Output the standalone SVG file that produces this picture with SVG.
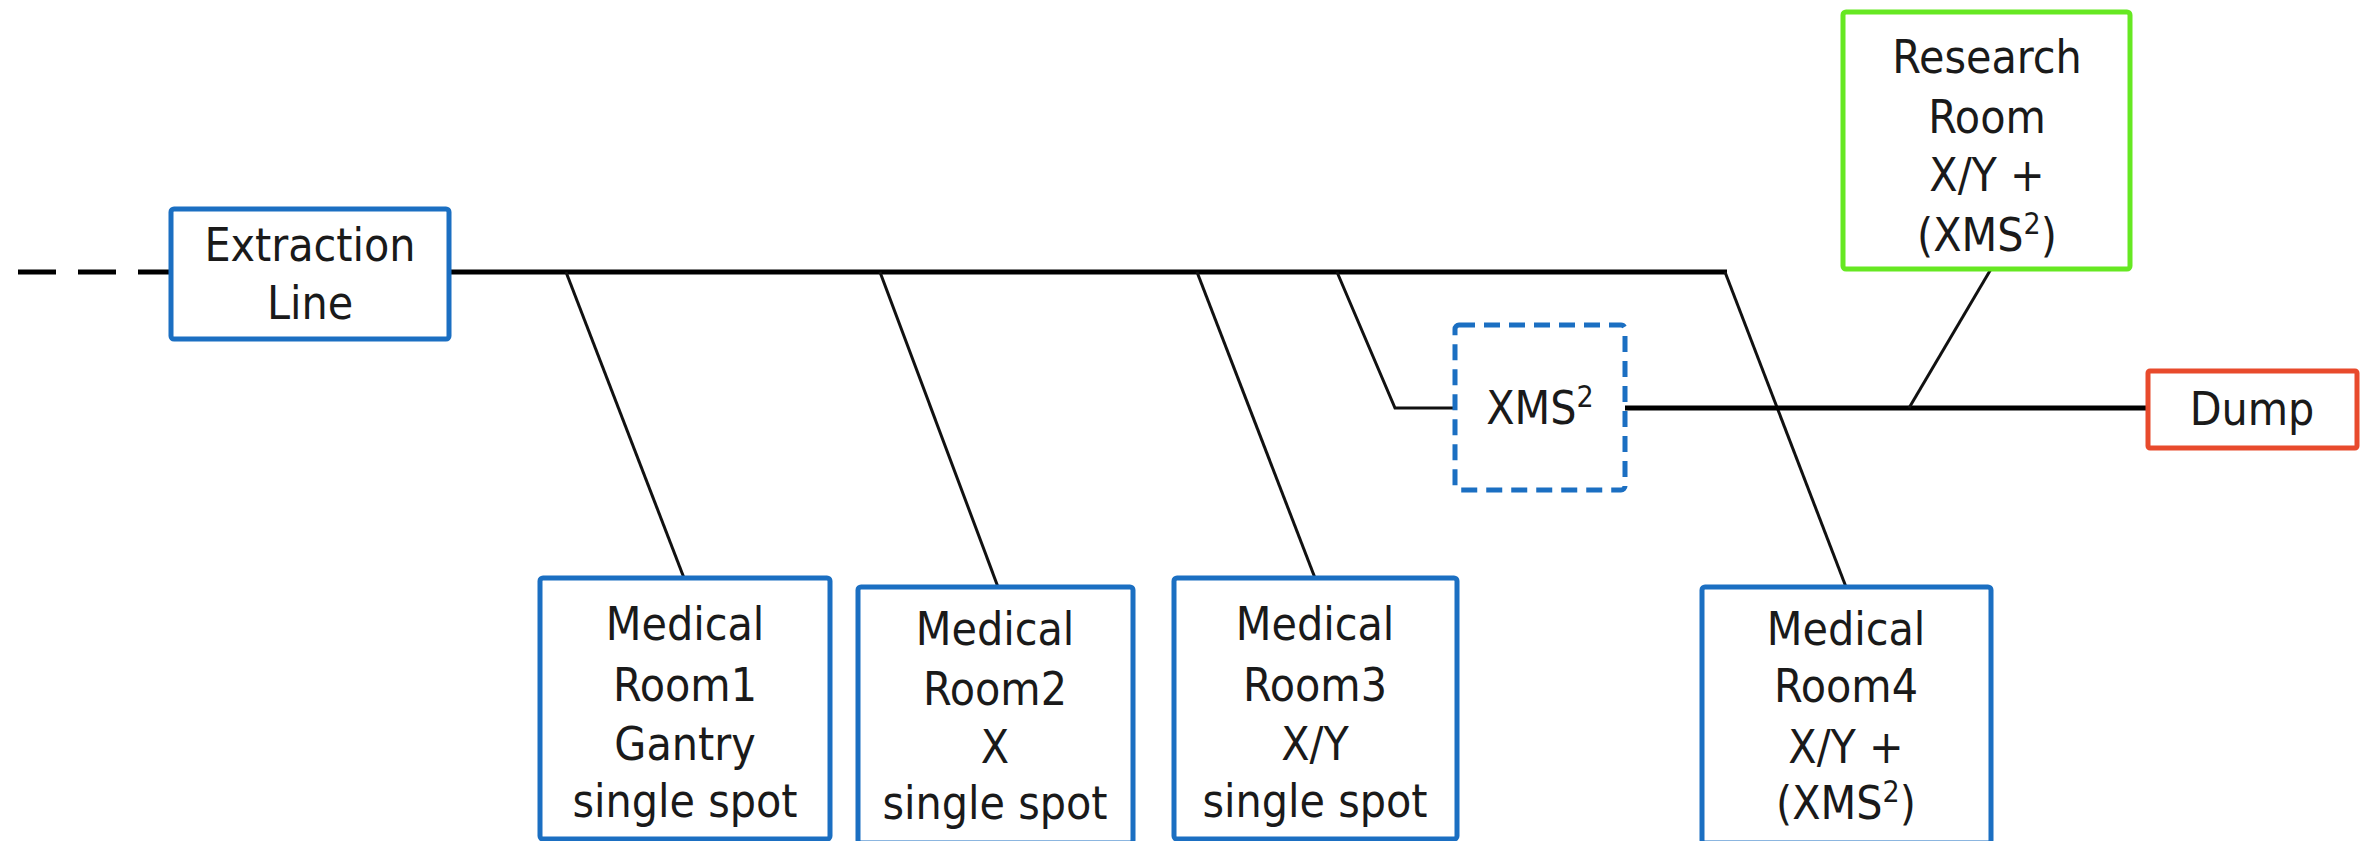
<svg xmlns="http://www.w3.org/2000/svg" width="2372" height="841" viewBox="0 0 2372 841">
<style>
.box{fill:#fff;stroke:#1b6fc2;stroke-width:5}
.t{font-family:"DejaVu Sans Condensed","DejaVu Sans",sans-serif;font-size:46px;fill:#1a1a1a;text-anchor:middle}
.sup{font-size:30px}
.ln{stroke:#111;stroke-width:3;fill:none}
.main{stroke:#000;stroke-width:5;fill:none}
</style>
<rect width="2372" height="841" fill="#fff"/>
<g id="connectors">
<line class="main" x1="18" y1="272" x2="171" y2="272" stroke-dasharray="38,22"/>
<line class="main" x1="449" y1="272" x2="1727" y2="272"/>
<line class="ln" x1="566" y1="272" x2="684" y2="578"/>
<line class="ln" x1="880" y1="272" x2="998" y2="587"/>
<line class="ln" x1="1197" y1="272" x2="1315" y2="578"/>
<polyline class="ln" points="1337,272 1395,408 1455,408"/>
<line class="ln" x1="1725" y1="272" x2="1846" y2="587"/>
<line class="main" x1="1625" y1="408" x2="2148" y2="408"/>
<line class="ln" x1="1991" y1="269" x2="1909" y2="408"/>
</g>
<g id="extraction">
<rect class="box" x="171" y="209" width="278" height="130" rx="3"/>
<text class="t" x="310" y="261">Extraction</text>
<text class="t" x="310" y="319">Line</text>
</g>
<g id="xms2">
<rect x="1455" y="325" width="170" height="165" rx="4" fill="#fff" stroke="#1b6fc2" stroke-width="5" stroke-dasharray="16,9"/>
<text class="t" x="1540" y="424">XMS<tspan class="sup" dy="-17">2</tspan></text>
</g>
<g id="dump">
<rect x="2148" y="371" width="209" height="77" rx="2" fill="#fff" stroke="#e84a2c" stroke-width="5"/>
<text class="t" x="2252" y="425">Dump</text>
</g>
<g id="research">
<rect x="1843" y="12" width="287" height="257" rx="3" fill="#fff" stroke="#66e822" stroke-width="5"/>
<text class="t" x="1987" y="73">Research</text>
<text class="t" x="1987" y="133">Room</text>
<text class="t" x="1987" y="191">X/Y +</text>
<text class="t" x="1987" y="251">(XMS<tspan class="sup" dy="-17">2</tspan><tspan dy="17">)</tspan></text>
</g>
<g id="room1">
<rect class="box" x="540" y="578" width="290" height="261" rx="3"/>
<text class="t" x="685" y="640">Medical</text>
<text class="t" x="685" y="701">Room1</text>
<text class="t" x="685" y="760">Gantry</text>
<text class="t" x="685" y="817">single spot</text>
</g>
<g id="room2">
<rect class="box" x="858" y="587" width="275" height="256" rx="3"/>
<text class="t" x="995" y="645">Medical</text>
<text class="t" x="995" y="705">Room2</text>
<text class="t" x="995" y="763">X</text>
<text class="t" x="995" y="819">single spot</text>
</g>
<g id="room3">
<rect class="box" x="1174" y="578" width="283" height="261" rx="3"/>
<text class="t" x="1315" y="640">Medical</text>
<text class="t" x="1315" y="701">Room3</text>
<text class="t" x="1315" y="760">X/Y</text>
<text class="t" x="1315" y="817">single spot</text>
</g>
<g id="room4">
<rect class="box" x="1702" y="587" width="289" height="256" rx="3"/>
<text class="t" x="1846" y="645">Medical</text>
<text class="t" x="1846" y="702">Room4</text>
<text class="t" x="1846" y="763">X/Y +</text>
<text class="t" x="1846" y="819">(XMS<tspan class="sup" dy="-17">2</tspan><tspan dy="17">)</tspan></text>
</g>
</svg>
